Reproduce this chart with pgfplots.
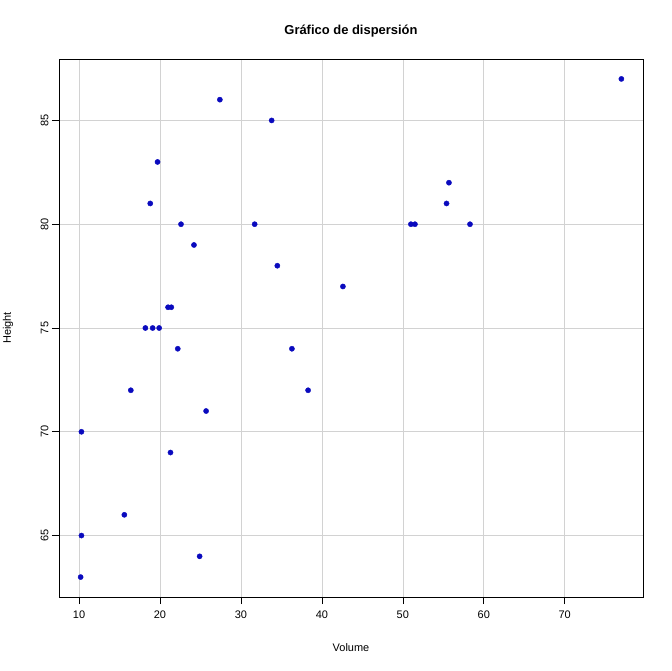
\documentclass[border=0pt]{standalone}
\usepackage{pgfplots}
\pgfplotsset{compat=1.18}
\usepackage{fontspec}
\setmainfont{Liberation Sans}
\definecolor{ptcol}{RGB}{10,10,190}
\definecolor{gridc}{RGB}{210,210,210}
\begin{document}
\begin{tikzpicture}
\useasboundingbox (-59bp,-74bp) rectangle (613bp,597bp);
\begin{axis}[
  at={(0,0)}, anchor=south west,
  scale only axis, width=584bp, height=538bp,
  xmin=7.528, xmax=79.672, ymin=62.04, ymax=87.96,
  xtick={10,20,...,70}, ytick={65,70,...,85},
  grid=major, major grid style={gridc, line width=0.6pt},
  axis line style={black, line width=0.9pt},
  tick style={black, line width=0.6pt},
  tick align=outside, major tick length=7bp,
  xtick pos=bottom, ytick pos=left,
  /pgf/number format/assume math mode=true,
  tick label style={font=\fontsize{11}{13}\selectfont},
  yticklabel style={rotate=90, anchor=south, yshift=0bp},
  xticklabel style={yshift=-3bp},
  xlabel={Volume},
  every axis x label/.style={at={(axis description cs:0.5,0)}, anchor=center, yshift=-51bp, font=\fontsize{11}{13}\selectfont},
  ylabel={Height},
  every axis y label/.style={at={(axis description cs:0,0.5)}, xshift=-51bp, rotate=90, anchor=center, font=\fontsize{11}{13}\selectfont},
  title={\bfseries Gráfico de dispersión},
  every axis title/.style={at={(axis description cs:0.5,1)}, anchor=center, yshift=28bp, font=\fontsize{13}{15}\selectfont},
]
\addplot[only marks, mark=*, mark size=2.6bp, mark options={fill=ptcol, draw=ptcol}] coordinates {
(10.3,70) (10.3,65) (10.2,63) (16.4,72) (18.8,81) (19.7,83) (15.6,66) (18.2,75)
(22.6,80) (19.9,75) (24.2,79) (21.0,76) (21.4,76) (21.3,69) (19.1,75) (22.2,74)
(33.8,85) (27.4,86) (25.7,71) (24.9,64) (34.5,78) (31.7,80) (36.3,74) (38.3,72)
(42.6,77) (55.4,81) (55.7,82) (58.3,80) (51.5,80) (51.0,80) (77.0,87)
};
\end{axis}
\end{tikzpicture}
\end{document}
